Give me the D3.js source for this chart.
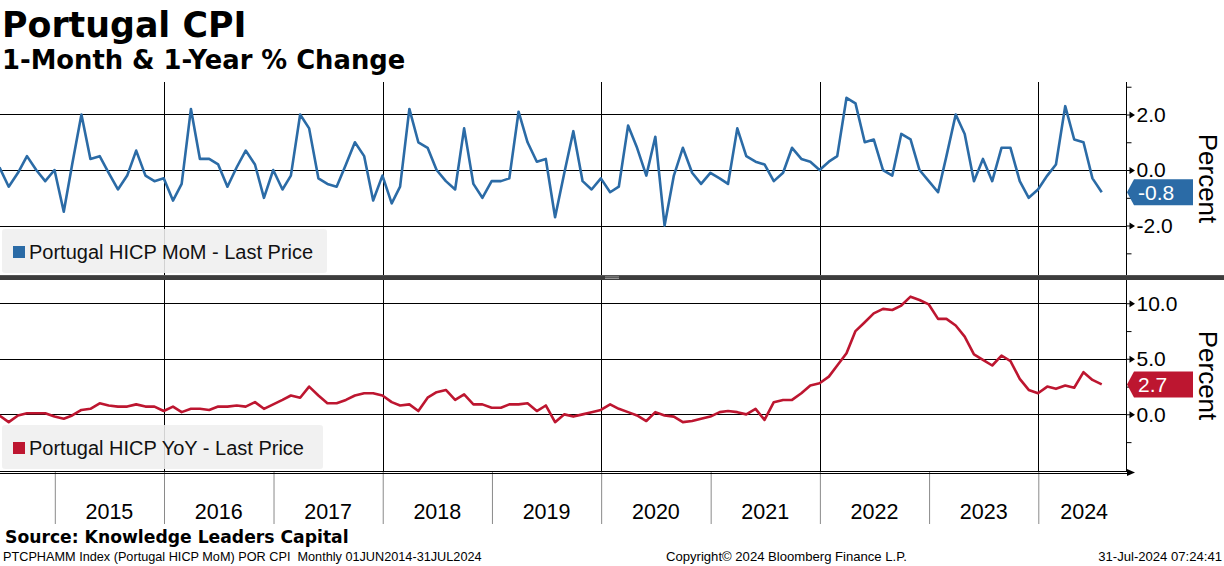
<!DOCTYPE html>
<html>
<head>
<meta charset="utf-8">
<script src="https://cdn.jsdelivr.net/npm/d3@7"></script>
<style>
  body { margin: 0; background: #fff; }
  svg { display: block; }
</style>
</head>
<body>
<svg id="chart" width="1224" height="566"></svg>
<script>
// monthly values, Jun 2014 .. Jul 2024
var momValues = [
  0.1, -0.6, -0.1, 0.5, 0.0, -0.4, 0.0,
  -1.5, 0.2, 2.0, 0.4, 0.5, -0.1, -0.7, -0.2, 0.7, -0.2, -0.4, -0.3,
  -1.1, -0.5, 2.2, 0.4, 0.4, 0.2, -0.6, 0.1, 0.7, 0.2, -1.0, 0.0,
  -0.7, -0.2, 2.0, 1.5, -0.3, -0.5, -0.6, 0.2, 1.0, 0.5, -1.1, -0.2,
  -1.2, -0.6, 2.2, 1.0, 0.8, 0.0, -0.4, -0.7, 1.5, -0.5, -1.0, -0.4,
  -0.4, -0.3, 2.1, 1.0, 0.3, 0.4, -1.7, -0.1, 1.4, -0.4, -0.7, -0.3,
  -0.8, -0.6, 1.6, 0.8, -0.2, 1.2, -2.0, -0.2, 0.8, -0.1, -0.5, -0.1,
  -0.3, -0.5, 1.5, 0.5, 0.3, 0.2, -0.4, -0.1, 0.8, 0.4, 0.3, 0.0,
  0.3, 0.5, 2.6, 2.4, 1.0, 1.1, 0.0, -0.2, 1.3, 1.1, 0.0, -0.4,
  -0.8, 0.5, 2.0, 1.3, -0.4, 0.4, -0.4, 0.8, 0.8, -0.4, -1.0, -0.7,
  -0.2, 0.2, 2.3, 1.1, 1.0, -0.3, -0.8
];
var yoyValues = [
  -0.1, -0.7, -0.1, 0.1, 0.1, 0.1, -0.2,
  -0.4, -0.1, 0.4, 0.5, 1.0, 0.8, 0.7, 0.7, 0.9, 0.7, 0.7, 0.3,
  0.7, 0.2, 0.5, 0.5, 0.4, 0.7, 0.7, 0.8, 0.7, 1.1, 0.5, 0.9,
  1.3, 1.7, 1.5, 2.5, 1.7, 1.0, 1.0, 1.3, 1.7, 1.9, 1.9, 1.7,
  1.1, 0.8, 0.9, 0.3, 1.5, 2.0, 2.2, 1.3, 1.8, 0.9, 0.9, 0.6,
  0.6, 0.9, 0.9, 1.0, 0.3, 0.8, -0.7, 0.0, -0.2, 0.0, 0.2, 0.4,
  0.9, 0.5, 0.2, -0.1, -0.6, 0.2, -0.1, -0.2, -0.7, -0.6, -0.4, -0.2,
  0.2, 0.3, 0.2, 0.0, 0.5, -0.5, 1.1, 1.3, 1.3, 1.9, 2.6, 2.8,
  3.4, 4.4, 5.5, 7.5, 8.3, 9.1, 9.5, 9.4, 9.8, 10.6, 10.3, 9.9,
  8.6, 8.6, 8.0, 7.0, 5.4, 4.9, 4.4, 5.3, 4.8, 3.2, 2.2, 1.9,
  2.5, 2.3, 2.6, 2.4, 3.8, 3.1, 2.7
];
var yearLabels = [2015, 2016, 2017, 2018, 2019, 2020, 2021, 2022, 2023, 2024];
var gridYears = [2016, 2018, 2020, 2022, 2024];
var momTicks = [-2, 0, 2], momMinor = [-3, -1, 1, 3];
var yoyTicks = [0, 5, 10], yoyMinor = [-2.5, 2.5, 7.5];

var blue = "#2b6ba6", red = "#bd1630";
var regular = "'Liberation Sans', Arial, sans-serif";
var bold = "'DejaVu Sans', Verdana, sans-serif";

var svg = d3.select("#chart"),
    plotRight = 1126;

// points sit on the last day of each month
var dates = momValues.map(function (d, i) { return new Date(2014, 6 + i, 0); });

var x = d3.scaleTime()
    .domain([new Date(2015, 0, 1), new Date(2024, 0, 1)])
    .range([54.8, 1038.3]);

var panels = [
  { top: 82, bottom: 275, domain: [-3.78, 3.17], values: momValues, color: blue,
    ticks: momTicks, minor: momMinor, legend: "Portugal HICP MoM - Last Price" },
  { top: 280, bottom: 471, domain: [-5.1, 12.1], values: yoyValues, color: red,
    ticks: yoyTicks, minor: yoyMinor, legend: "Portugal HICP YoY - Last Price" }
];

// titles
svg.append("text").attr("x", 2).attr("y", 37)
  .style("font", "bold 34.8px " + bold).text("Portugal CPI");
svg.append("text").attr("x", 2).attr("y", 69)
  .style("font", "bold 25.8px " + bold).text("1-Month & 1-Year % Change");

svg.append("defs").append("clipPath").attr("id", "clip")
  .append("rect").attr("x", 0).attr("y", 0).attr("width", plotRight).attr("height", 566);

panels.forEach(function (p, k) {
  var y = d3.scaleLinear().domain(p.domain).range([p.bottom, p.top]);
  var g = svg.append("g");

  g.selectAll(".hgrid").data(p.ticks).enter().append("line")
    .attr("x1", 0).attr("x2", plotRight)
    .attr("y1", function (d) { return Math.round(y(d)) + 0.5; })
    .attr("y2", function (d) { return Math.round(y(d)) + 0.5; })
    .attr("stroke", "#000").attr("stroke-width", 1);

  g.selectAll(".vgrid").data(gridYears).enter().append("line")
    .attr("x1", function (d) { return Math.round(x(new Date(d, 0, 1))) + 0.5; })
    .attr("x2", function (d) { return Math.round(x(new Date(d, 0, 1))) + 0.5; })
    .attr("y1", p.top).attr("y2", p.bottom)
    .attr("stroke", "#000").attr("stroke-width", 1);

  var line = d3.line()
    .x(function (d, i) { return x(dates[i]); })
    .y(function (d) { return y(d); });

  g.append("path")
    .datum(p.values)
    .attr("clip-path", "url(#clip)")
    .attr("fill", "none")
    .attr("stroke", p.color)
    .attr("stroke-width", 2.6)
    .attr("stroke-linejoin", "round")
    .attr("d", line);

  // legend
  var ly = p.bottom - 46;
  g.append("rect").attr("x", 2).attr("y", ly).attr("width", k === 0 ? 325 : 321).attr("height", 44)
    .attr("rx", 3).attr("fill", "#efefef").attr("fill-opacity", 0.88);
  g.append("rect").attr("x", 13).attr("y", ly + 17).attr("width", 12).attr("height", 12)
    .attr("fill", p.color);
  g.append("text").attr("x", 29).attr("y", ly + 30)
    .style("font", "20px " + regular).attr("fill", "#111").text(p.legend);

  // right axis
  var axis = g.append("g")
    .attr("transform", "translate(" + (plotRight + 0.5) + ",0)")
    .call(d3.axisRight(y).tickValues(p.ticks).tickSize(0).tickPadding(10)
      .tickFormat(function (d) { return d.toFixed(1); }));
  axis.select(".domain").remove();
  axis.selectAll("text").style("font", "21px " + regular).attr("fill", "#000");
  axis.selectAll(".tick").append("path")
    .attr("d", "M0,-0.5H4L8,0L4,0.5H0Z M3,-3.5L8.5,0L3,3.5Z").attr("fill", "#000");

  var minorAxis = g.append("g")
    .attr("transform", "translate(" + (plotRight + 0.5) + ",0)")
    .call(d3.axisRight(y).tickValues(p.minor).tickSize(5).tickFormat(""));
  minorAxis.select(".domain").remove();
  minorAxis.selectAll("line").attr("stroke", "#000");

  g.append("line").attr("x1", plotRight + 0.5).attr("x2", plotRight + 0.5)
    .attr("y1", p.top).attr("y2", p.bottom + 1).attr("stroke", "#000");

  // axis title
  g.append("text")
    .attr("transform", "translate(1199," + ((p.top + p.bottom) / 2) + ") rotate(90)")
    .attr("text-anchor", "middle")
    .style("font", "26px " + regular).attr("fill", "#000")
    .text("Percent");

  // last value tag
  var last = p.values[p.values.length - 1],
      yc = y(last);
  g.append("path")
    .attr("d", "M" + (plotRight + 1) + "," + yc + "L" + (plotRight + 8) + "," + (yc - 13) +
      "H1193V" + (yc + 13) + "H" + (plotRight + 8) + "Z")
    .attr("fill", p.color);
  g.append("text").attr("x", 1138).attr("y", yc + 7.5)
    .style("font", "21px " + regular).attr("fill", "#fff")
    .text(last.toFixed(1));
});

// separator between panels
svg.append("rect").attr("x", 0).attr("y", 275).attr("width", 1224).attr("height", 5).attr("fill", "#3d3d3d");
svg.append("rect").attr("x", 0).attr("y", 275).attr("width", 1224).attr("height", 1).attr("fill", "#555");
svg.append("rect").attr("x", 605).attr("y", 276.5).attr("width", 14).attr("height", 0.8).attr("fill", "#aaa");
svg.append("rect").attr("x", 605).attr("y", 278.2).attr("width", 14).attr("height", 0.8).attr("fill", "#aaa");

// bottom time axis
var xAxis = svg.append("g")
  .attr("transform", "translate(0,472)")
  .call(d3.axisBottom(x)
    .tickValues(yearLabels.map(function (d) { return new Date(d, 0, 1); }))
    .tickSize(52).tickFormat(""));
xAxis.select(".domain").remove();
xAxis.selectAll("line").attr("stroke", "#8a8a8a");

svg.append("line").attr("x1", 0).attr("x2", plotRight + 1).attr("y1", 471.5).attr("y2", 471.5).attr("stroke", "#000");
svg.append("line").attr("x1", 0).attr("x2", plotRight + 1).attr("y1", 473.5).attr("y2", 473.5).attr("stroke", "#000");
svg.append("path").attr("d", "M" + (plotRight + 1) + ",469L" + (plotRight + 9) + ",472.5L" + (plotRight + 1) + ",476Z")
  .attr("fill", "#000");

svg.selectAll(".year").data(yearLabels).enter().append("text")
  .attr("x", function (d) {
    var a = x(new Date(d, 0, 1)), b = Math.min(x(new Date(d + 1, 0, 1)), plotRight + 4);
    return (a + b) / 2;
  })
  .attr("y", 519)
  .attr("text-anchor", "middle")
  .style("font", "21.5px " + regular).attr("fill", "#000")
  .text(function (d) { return d; });

// footer
svg.append("text").attr("x", 5).attr("y", 543)
  .style("font", "bold 17.2px " + bold).text("Source: Knowledge Leaders Capital");
svg.append("text").attr("x", 3).attr("y", 561)
  .style("font", "12.7px " + regular).style("white-space", "pre")
  .text("PTCPHAMM Index (Portugal HICP MoM) POR CPI  Monthly 01JUN2014-31JUL2024");
svg.append("text").attr("x", 666).attr("y", 561)
  .style("font", "13.1px " + regular)
  .text("Copyright\u00a9 2024 Bloomberg Finance L.P.");
svg.append("text").attr("x", 1222).attr("y", 561).attr("text-anchor", "end")
  .style("font", "13.1px " + regular)
  .text("31-Jul-2024 07:24:41");
</script>
</body>
</html>
